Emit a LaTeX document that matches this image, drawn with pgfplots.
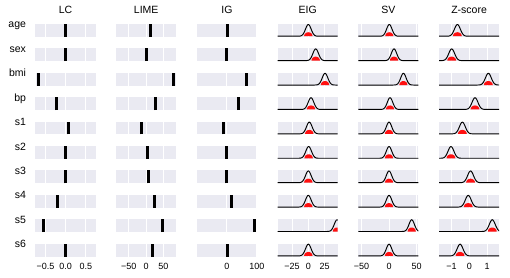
\documentclass[border=0pt]{standalone}
\usepackage{pgfplots}
\pgfplotsset{compat=1.18}
\usepackage{pgfplotstable}
\usepackage{fontspec}
\setmainfont{Liberation Sans}
\definecolor{sbbg}{HTML}{EAEAF2}
\definecolor{sbred}{HTML}{FF1010}

% normalised Gaussian shape (peak = 1)
\pgfplotstableread{
z g
-1000 0
-5 0
-4 0.0003
-3.5 0.0022
-3 0.0111
-2.75 0.0228
-2.5 0.0439
-2.25 0.0796
-2 0.1353
-1.75 0.2163
-1.5 0.3247
-1.25 0.4578
-1 0.6065
-0.75 0.7548
-0.5 0.8825
-0.25 0.9692
0 1
0.25 0.9692
0.5 0.8825
0.75 0.7548
1 0.6065
1.25 0.4578
1.5 0.3247
1.75 0.2163
2 0.1353
2.25 0.0796
2.5 0.0439
2.75 0.0228
3 0.0111
3.5 0.0022
4 0.0003
5 0
1000 0
}\gauss

% red blob shape at the foot of each curve
\pgfplotstableread{
z h
-1 0
-0.95 0.31
-0.8 0.6
-0.6 0.8
-0.3 0.95
0 1
0.3 0.95
0.6 0.8
0.8 0.6
0.95 0.31
1 0
}\blob

\pgfplotsset{
  cell/.style={scale only axis, width=60pt, height=12.8pt, anchor=north west,
    axis background/.style={fill=sbbg}, axis line style={draw=none},
    xmajorgrids, major grid style={white, line width=0.9pt},
    ytick=\empty, major tick length=0pt, xticklabels={},
    tick label style={font=\fontsize{9}{10}\selectfont},
    xticklabel style={anchor=base, yshift=-13.3pt},
    title style={font=\fontsize{10.5}{12}\selectfont, anchor=base, at={(0.5,1)}, yshift=4.7pt},
    ymin=0, ymax=1},
  lc/.style={xmin=-0.75, xmax=0.74, xtick={-0.5,0,0.5}},
  lcT/.style={lc, title=LC},
  lcB/.style={lc, xticklabels={−0.5,0.0,0.5}},
  lime/.style={xmin=-86, xmax=87, xtick={-50,0,50}},
  limeT/.style={lime, title=LIME},
  limeB/.style={lime, xticklabels={−50,0,50}},
  ig/.style={xmin=-99, xmax=100, xtick={-100,0,100}},
  igT/.style={ig, title=IG},
  igB/.style={ig, xticklabels={−100,0,100}},
  eig/.style={xmin=-47, xmax=44.9, xtick={-25,0,25}},
  eigT/.style={eig, title=EIG},
  eigB/.style={eig, xticklabels={−25,0,25}},
  sv/.style={xmin=-55.5, xmax=53, xtick={-50,0,50}},
  svT/.style={sv, title=SV},
  svB/.style={sv, xticklabels={−50,0,50}},
  zs/.style={xmin=-1.70, xmax=1.67, xtick={-1,0,1}},
  zsT/.style={zs, title=Z-score},
  zsB/.style={zs, xticklabels={−1,0,1}},
}

% #1 x-left, #2 options, #3 value
\newcommand{\barcell}[3]{%
  \begin{axis}[cell, at={(#1pt,-\ytop pt)}, #2]
    \addplot[black, line width=3pt] coordinates {(#3,0) (#3,1)};
  \end{axis}}
% #1 x-left, #2 options, #3 mean, #4 sigma
\newcommand{\gcell}[4]{%
  \begin{axis}[cell, at={(#1pt,-\ytop pt)}, #2, ymin=-0.05, ymax=1.04]
    \addplot[fill=sbred, draw=none] table[x expr={#3+1.5*#4*\thisrow{z}}, y expr={0.34*\thisrow{h}}]{\blob};
    \addplot[black, line width=0.95pt] table[x expr={#3+#4*\thisrow{z}}, y expr={\thisrow{g}}]{\gauss};
  \end{axis}}
% #1 name, #2 row index, #3 LC, #4 LIME, #5 IG, #6 EIG, #7 SV, #8 Z, #9 suffix
\newcommand{\frow}[9]{%
  \pgfmathsetmacro\ytop{24+24.41*#2}%
  \barcell{35.5}{lc#9, extra description/.code={\node[anchor=base east, xshift=-6pt, font=\fontsize{10.5}{12}\selectfont] at (axis description cs:0,0.69) {#1};}}{#3}
  \barcell{116.2}{lime#9}{#4}
  \barcell{196.9}{ig#9}{#5}
  \gcell{277.6}{eig#9}{#6}{4.3}
  \gcell{358.3}{sv#9}{#7}{4.9}
  \gcell{439.0}{zs#9}{#8}{0.165}
}

\begin{document}
\begin{tikzpicture}
\path[use as bounding box] (0,0) rectangle (510pt,-277pt);
\frow{age}{0}{0}{12}{2}{0}{0.5}{-0.67}{T}
\frow{sex}{1}{0}{0}{-1}{11.3}{9}{-0.99}{}
\frow{bmi}{2}{-0.68}{78}{64}{25.6}{26}{1.07}{}
\frow{bp}{3}{-0.22}{28}{39}{4.1}{1.8}{0.32}{}
\frow{s1}{4}{0.065}{-14}{-10}{1.5}{0}{-0.39}{}
\frow{s2}{5}{0}{5}{-1}{0.5}{0}{-1.03}{}
\frow{s3}{6}{0}{8}{-1}{0}{0}{0.07}{}
\frow{s4}{7}{-0.21}{25}{16}{0}{0}{-0.06}{}
\frow{s5}{8}{-0.56}{48}{91}{44}{41}{1.29}{}
\frow{s6}{9}{0}{20}{3}{0}{0}{-0.52}{B}
\end{tikzpicture}
\end{document}
